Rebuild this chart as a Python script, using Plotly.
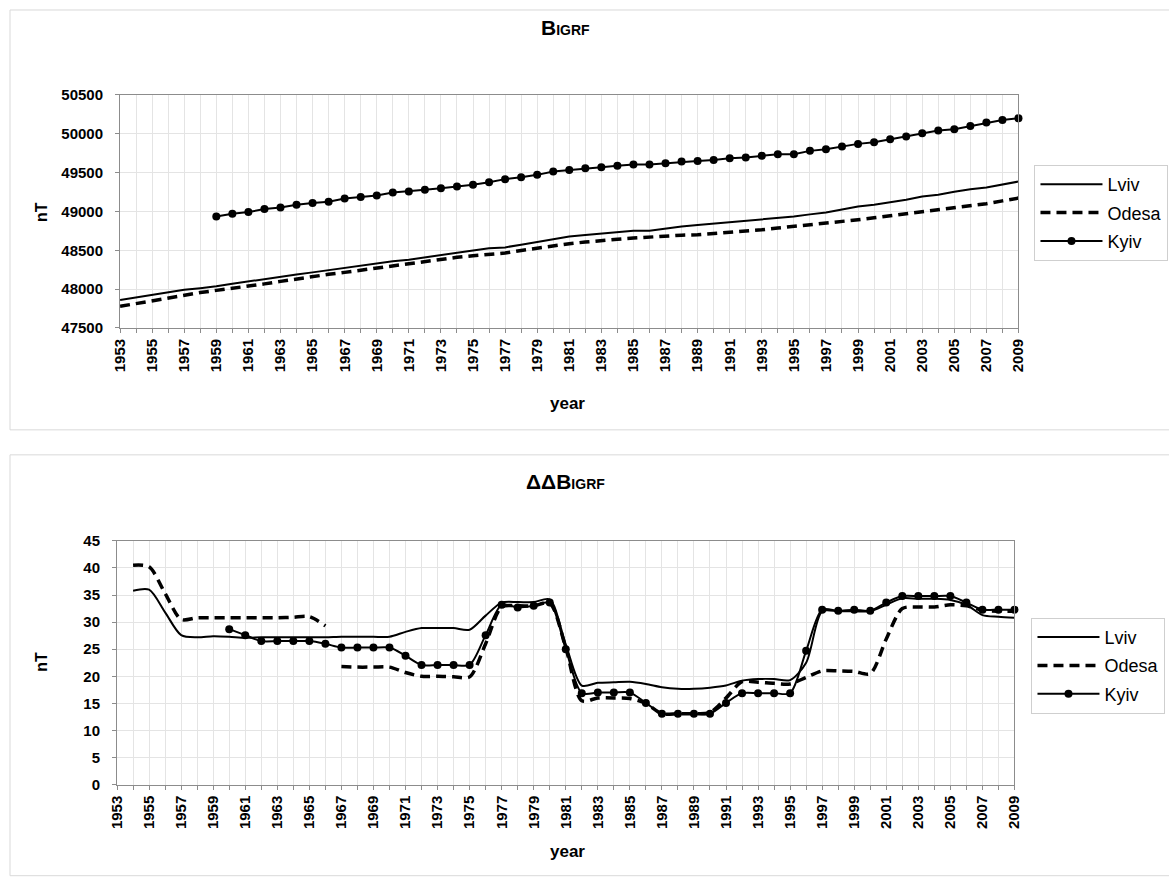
import plotly.graph_objects as go

W, H = 1169, 879

years = list(range(1953, 2010))
x_tick_years = years[::2]

# ---- Top chart: B_IGRF (nT) ----
lviv_b = [47860, 47895, 47928, 47960, 47992, 48012, 48035, 48068, 48099, 48132,
          48160, 48188, 48215, 48245, 48272, 48305, 48336, 48357, 48378, 48410,
          48442, 48470, 48498, 48525, 48537, 48572, 48606, 48642, 48678, 48695,
          48712, 48732, 48751, 48751, 48780, 48807, 48824, 48841, 48860, 48880,
          48897, 48914, 48935, 48962, 48987, 49025, 49064, 49085, 49115, 49150,
          49192, 49214, 49253, 49287, 49308, 49343, 49385]
odesa_b = [47778, 47815, 47851, 47890, 47928, 47955, 47983, 48009, 48035, 48067,
           48099, 48131, 48164, 48190, 48215, 48243, 48272, 48304, 48336, 48361,
           48387, 48409, 48430, 48447, 48464, 48497, 48529, 48557, 48584, 48606,
           48627, 48642, 48657, 48672, 48687, 48694, 48700, 48715, 48730, 48747,
           48764, 48786, 48807, 48824, 48841, 48867, 48893, 48918, 48944, 48965,
           48987, 49015, 49043, 49071, 49099, 49136, 49172]
kyiv_b = [None] * 6 + [48935, 48970, 48992, 49030, 49051, 49085, 49107, 49124, 49167, 49185,
                       49205, 49244, 49257, 49278, 49300, 49321, 49343, 49375, 49416, 49441,
                       49471, 49514, 49535, 49557, 49570, 49587, 49604, 49604, 49622, 49642,
                       49651, 49664, 49686, 49694, 49716, 49737, 49737, 49780, 49801, 49835,
                       49870, 49892, 49930, 49964, 50007, 50041, 50059, 50101, 50144, 50178,
                       50200]

# ---- Bottom chart: ΔΔB_IGRF (nT) ----
lviv_dd = [None, 35.8, 36.0, 31.8, 27.6, 27.2, 27.4, 27.3, 27.1, 27.2,
           27.2, 27.2, 27.2, 27.2, 27.3, 27.3, 27.3, 27.3, 28.2, 28.9,
           28.9, 28.9, 28.6, 31.2, 33.6, 33.7, 33.7, 34.2, 25.9, 18.3,
           18.8, 18.9, 19.0, 18.6, 18.0, 17.7, 17.7, 17.9, 18.3, 19.2,
           19.5, 19.5, 19.3, 22.5, 32.0, 32.0, 32.0, 32.0, 33.2, 34.4,
           34.3, 34.3, 34.1, 33.2, 31.3, 31.0, 30.8]
odesa_dd = [None, 40.5, 40.2, 35.3, 30.5, 30.8, 30.8, 30.8, 30.8, 30.8,
            30.8, 30.9, 31.0, 29.3, 21.8, 21.7, 21.7, 21.7, 20.7, 20.0,
            20.0, 19.9, 19.9, 26.0, 32.8, 33.0, 33.0, 33.5, 25.3, 15.5,
            16.0, 16.0, 15.9, 15.0, 13.1, 13.1, 13.1, 13.3, 16.0, 19.0,
            18.9, 18.7, 18.6, 19.8, 21.0, 21.0, 20.9, 20.5, 26.9, 32.5,
            32.8, 32.8, 33.2, 33.0, 32.2, 32.0, 32.0]
odesa_break_after = 1966  # Odesa curve is interrupted between 1966 and 1967
kyiv_dd = [None] * 7 + [28.7, 27.6, 26.5, 26.5, 26.5, 26.5, 26.0, 25.3, 25.3, 25.3,
                        25.3, 23.8, 22.1, 22.1, 22.1, 22.1, 27.6, 33.2, 32.7, 33.0,
                        33.6, 25.0, 16.9, 17.0, 17.0, 17.0, 15.1, 13.1, 13.1, 13.1,
                        13.1, 15.1, 16.9, 16.9, 16.9, 16.9, 24.7, 32.3, 32.1, 32.3,
                        32.1, 33.6, 34.8, 34.8, 34.8, 34.8, 33.6, 32.3, 32.3, 32.3]

FONT = "Liberation Sans, Arial, sans-serif"
GRID = "#e4e4e4"
AXLINE = "#8c8c8c"

# The capture slightly shrinks/offsets the page; compensate so the
# target pixel positions land where intended.
SX, SY, BX, BY = 0.985, 0.981, 9.0, 9.0


def px(x):
    return ((x - BX) / SX) / W


def py(y):
    return 1 - ((y - BY) / SY) / H


fig = go.Figure()

# top chart traces
fig.add_trace(go.Scatter(x=years, y=lviv_b, name="Lviv", mode="lines",
                         line=dict(color="black", width=2), legendgroup="l1",
                         xaxis="x", yaxis="y", legend="legend"))
fig.add_trace(go.Scatter(x=years, y=odesa_b, name="Odesa", mode="lines",
                         line=dict(color="black", width=3.5, dash="10px,6px"),
                         legendgroup="o1", xaxis="x", yaxis="y", legend="legend"))
fig.add_trace(go.Scatter(x=years, y=kyiv_b, name="Kyiv", mode="lines+markers",
                         line=dict(color="black", width=2),
                         marker=dict(color="black", size=8, symbol="circle"),
                         cliponaxis=False, legendgroup="k1",
                         xaxis="x", yaxis="y", legend="legend"))

# bottom chart traces
SMOOTH = 0.8
fig.add_trace(go.Scatter(x=years, y=lviv_dd, name="Lviv", mode="lines",
                         line=dict(color="black", width=2, shape="spline", smoothing=SMOOTH),
                         legendgroup="l2", xaxis="x2", yaxis="y2", legend="legend2"))
split = years.index(odesa_break_after) + 1
fig.add_trace(go.Scatter(x=years[:split], y=odesa_dd[:split], name="Odesa", mode="lines",
                         line=dict(color="black", width=3.5, dash="10px,6px",
                                   shape="spline", smoothing=SMOOTH),
                         legendgroup="o2", xaxis="x2", yaxis="y2", legend="legend2"))
fig.add_trace(go.Scatter(x=years[split:], y=odesa_dd[split:], name="Odesa", mode="lines",
                         line=dict(color="black", width=3.5, dash="10px,6px",
                                   shape="spline", smoothing=SMOOTH),
                         legendgroup="o2", showlegend=False,
                         xaxis="x2", yaxis="y2", legend="legend2"))
fig.add_trace(go.Scatter(x=years, y=kyiv_dd, name="Kyiv", mode="lines+markers",
                         line=dict(color="black", width=2, shape="spline", smoothing=SMOOTH),
                         marker=dict(color="black", size=8, symbol="circle"),
                         cliponaxis=False, legendgroup="k2",
                         xaxis="x2", yaxis="y2", legend="legend2"))


def xdom(a, b):
    return [px(a), px(b)]


def ydom(top, bottom):
    return [py(bottom), py(top)]


tickfont = dict(family=FONT, size=15, color="black", weight="bold")

xcommon = dict(
    tickmode="array", tickvals=x_tick_years, ticktext=[str(y) for y in x_tick_years],
    tickangle=-90, tickfont=tickfont, showgrid=True, gridcolor=GRID, gridwidth=1,
    minor=dict(dtick=1, tick0=1953, showgrid=True, gridcolor=GRID, ticks="outside",
               ticklen=4, tickcolor=AXLINE),
    ticks="outside", ticklen=4, tickcolor=AXLINE,
    showline=True, linecolor=AXLINE, linewidth=1, mirror=True,
    zeroline=False, range=[1953, 2009], fixedrange=True,
)
ycommon = dict(
    tickfont=tickfont, showgrid=True, gridcolor=GRID, gridwidth=1,
    ticks="outside", ticklen=4, tickcolor=AXLINE, ticklabelstandoff=9,
    showline=True, linecolor=AXLINE, linewidth=1, mirror=True,
    zeroline=False, tickformat="d",
)

legend_common = dict(xanchor="left", yanchor="top",
                     bordercolor="#cfcfcf", borderwidth=1, bgcolor="white",
                     font=dict(family=FONT, size=18, color="black"),
                     tracegroupgap=2, itemwidth=62)

fig.update_layout(
    width=W, height=H,
    margin=dict(l=0, r=0, t=0, b=0),
    paper_bgcolor="white", plot_bgcolor="white",
    font=dict(family=FONT, color="black"),
    xaxis=dict(domain=xdom(120, 1018), anchor="y", **xcommon),
    yaxis=dict(domain=ydom(95, 328), anchor="x", range=[47500, 50500],
               tickmode="linear", tick0=47500, dtick=500, **ycommon),
    xaxis2=dict(domain=xdom(117, 1014), anchor="y2", **xcommon),
    yaxis2=dict(domain=ydom(541, 785), anchor="x2", range=[0, 45],
                tickmode="linear", tick0=0, dtick=5, **ycommon),
    legend=dict(x=px(1034), y=py(165), **legend_common),
    legend2=dict(x=px(1031), y=py(618), **legend_common),
    showlegend=True,
)

# chart-area frames
for (t, b) in [(10, 430), (455, 876)]:
    fig.add_shape(type="rect", xref="paper", yref="paper",
                  x0=px(10), x1=1.01, y0=max(py(b), -0.01), y1=min(py(t), 0.999),
                  line=dict(color="#d9d9d9", width=1), layer="below")

ann = []
# titles
ann.append(dict(text="<b>B<span style='font-size:14px'>IGRF</span></b>",
                x=px(565), y=py(28), font=dict(size=21)))
ann.append(dict(text="<b>ΔΔB<span style='font-size:14px'>IGRF</span></b>",
                x=px(565), y=py(482), font=dict(size=21)))
# axis titles
for yy in (212, 662):
    ann.append(dict(text="<b>nT</b>", x=px(42), y=py(yy), textangle=-90,
                    font=dict(size=16)))
for yy in (404, 852):
    ann.append(dict(text="<b>year</b>", x=px(567), y=py(yy), font=dict(size=17)))

for a in ann:
    fig.add_annotation(xref="paper", yref="paper", showarrow=False,
                       xanchor="center", yanchor="middle", **a)

# remove the default page margin so the figure fills the window exactly
fig.write_html("out.html",
               config={"displayModeBar": False},
               post_script="document.body.style.margin='0';"
                           "document.documentElement.style.overflow='hidden';")
